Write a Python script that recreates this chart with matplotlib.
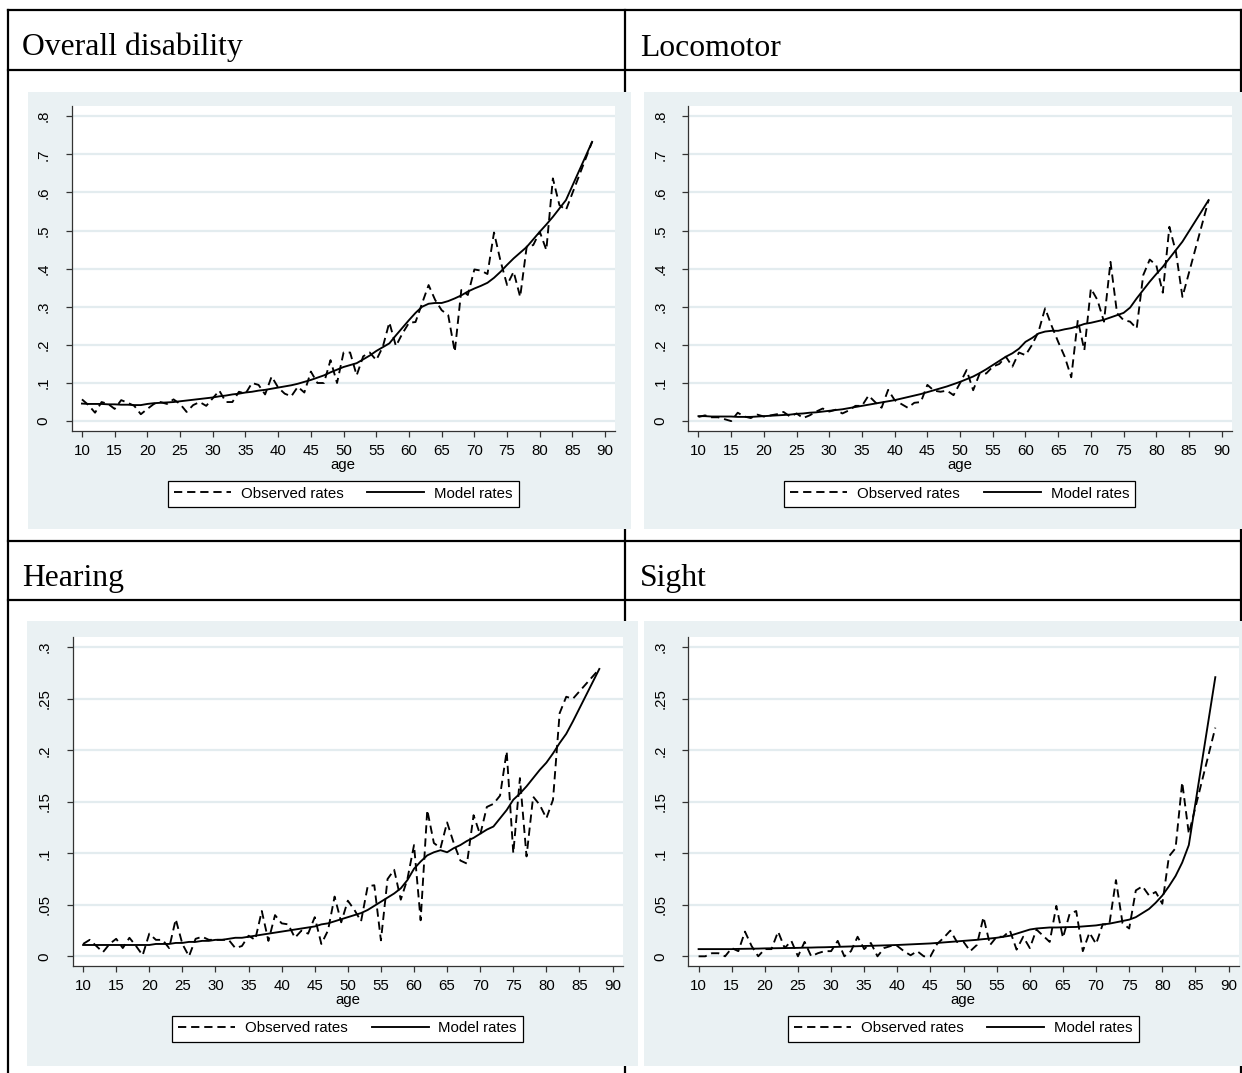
import matplotlib
matplotlib.use("Agg")
import matplotlib.pyplot as plt
from matplotlib.lines import Line2D
from matplotlib.patches import Rectangle

# ---------------------------------------------------------------- data
ages = list(range(10, 85)) + [88]

overall_obs = [
    .057, .042, .022, .050, .045, .032, .055, .048, .040, .018,
    .032, .045, .050, .045, .057, .045, .024, .042, .050, .040,
    .060, .080, .050, .050, .077, .072, .100, .095, .070, .117,
    .088, .072, .065, .090, .075, .130, .100, .100, .160, .100,
    .180, .180, .120, .170, .180, .160, .195, .259, .197, .230,
    .258, .260, .309, .357, .318, .291, .278, .182, .344, .331,
    .398, .395, .386, .495, .420, .357, .392, .326, .458, .462,
    .497, .449, .637, .567, .554,
    .733]
overall_model = [
    .046, .045, .045, .045, .044, .044, .043, .043, .042, .042,
    .045, .047, .048, .049, .050, .052, .054, .056, .058, .060,
    .062, .065, .067, .070, .072, .075, .077, .080, .082, .085,
    .088, .091, .094, .098, .103, .108, .114, .120, .128, .135,
    .142, .147, .152, .162, .172, .184, .194, .204, .225, .245,
    .265, .284, .300, .308, .310, .310, .315, .322, .330, .340,
    .348, .355, .363, .376, .392, .410, .427, .442, .457, .477,
    .497, .516, .536, .558, .580,
    .733]

loco_obs = [
    .011, .015, .010, .010, .005, .000, .022, .012, .008, .017,
    .012, .015, .018, .024, .012, .020, .008, .015, .025, .033,
    .025, .030, .020, .028, .040, .040, .067, .050, .035, .082,
    .055, .045, .035, .048, .050, .095, .080, .077, .080, .068,
    .100, .134, .081, .125, .125, .143, .150, .169, .143, .180,
    .173, .200, .235, .296, .250, .208, .169, .115, .265, .186,
    .348, .318, .261, .418, .283, .265, .261, .243, .383, .424,
    .409, .337, .510, .444, .326,
    .580]
loco_model = [
    .013, .013, .012, .012, .012, .012, .011, .011, .011, .012,
    .013, .014, .015, .016, .017, .019, .020, .022, .023, .025,
    .027, .029, .031, .034, .037, .040, .043, .046, .049, .052,
    .055, .059, .063, .067, .071, .076, .081, .086, .091, .097,
    .103, .110, .117, .126, .136, .147, .158, .169, .178, .190,
    .208, .218, .230, .235, .237, .237, .241, .244, .249, .255,
    .258, .262, .266, .272, .278, .284, .298, .322, .344, .366,
    .386, .405, .427, .449, .471,
    .580]

hearing_obs = [
    .012, .016, .010, .004, .012, .017, .008, .018, .010, .001,
    .022, .016, .016, .008, .036, .012, .000, .017, .019, .016,
    .016, .016, .016, .008, .010, .020, .016, .044, .015, .040,
    .032, .031, .018, .025, .022, .038, .012, .025, .058, .033,
    .054, .045, .034, .068, .069, .0155, .075, .084, .055, .075,
    .108, .035, .142, .110, .105, .130, .110, .093, .090, .137,
    .118, .145, .148, .156, .199, .100, .173, .097, .155, .147,
    .134, .152, .236, .252, .250,
    .279]
hearing_model = [
    .011, .011, .011, .011, .011, .011, .011, .011, .011, .011,
    .011, .012, .012, .012, .013, .013, .014, .014, .015, .015,
    .016, .016, .017, .018, .018, .019, .020, .021, .022, .023,
    .024, .025, .026, .027, .028, .029, .031, .032, .034, .036,
    .038, .040, .042, .045, .049, .053, .057, .061, .066, .074,
    .085, .092, .098, .101, .103, .101, .105, .108, .112, .115,
    .119, .123, .126, .134, .142, .152, .158, .165, .173, .181,
    .188, .197, .207, .216, .228,
    .279]

sight_obs = [
    .000, .000, .003, .003, .000, .008, .005, .024, .010, .000,
    .007, .007, .024, .008, .015, .000, .014, .000, .003, .005,
    .005, .015, .000, .005, .019, .007, .013, .000, .008, .010,
    .010, .005, .001, .005, .000, .000, .012, .018, .025, .014,
    .014, .005, .011, .038, .011, .019, .019, .025, .0065, .019,
    .008, .026, .020, .014, .049, .018, .041, .044, .005, .023,
    .012, .031, .031, .074, .032, .027, .064, .068, .059, .0625,
    .051, .097, .105, .169, .119,
    .222]
sight_model = [
    .007, .007, .007, .007, .007, .007, .0072, .0073, .0074, .0075,
    .0077, .0078, .0079, .008, .0081, .0082, .0084, .0085, .0087, .0088,
    .009, .0092, .0094, .0096, .0098, .010, .0102, .0104, .0106, .0108,
    .011, .0113, .0116, .0119, .0122, .0125, .013, .0135, .014, .0145,
    .015, .0155, .016, .0167, .0173, .018, .019, .020, .022, .024,
    .026, .027, .0275, .028, .028, .0282, .0284, .0285, .029, .0295,
    .030, .031, .0317, .033, .0343, .0356, .038, .042, .046, .052,
    .059, .068, .078, .091, .108,
    .271]

titles = ["Overall disability", "Locomotor", "Hearing", "Sight"]
x_ticks = list(range(10, 95, 5))
y_ticks_top = [0, .1, .2, .3, .4, .5, .6, .7, .8]
y_labels_top = ["0", ".1", ".2", ".3", ".4", ".5", ".6", ".7", ".8"]
y_ticks_bottom = [0, .05, .1, .15, .2, .25, .3]
y_labels_bottom = ["0", ".05", ".1", ".15", ".2", ".25", ".3"]
legend_labels = ["Observed rates", "Model rates"]

# ---------------------------------------------------------------- layout
W, H, DPI = 1242, 1073, 100
fig = plt.figure(figsize=(W / DPI, H / DPI), dpi=DPI)
fig.patch.set_facecolor("white")

def fx(x):
    return x / W

def fy(y):
    return 1 - y / H

BG = "#EAF1F3"
GRID = "#E3ECEF"
SANS = "Liberation Sans"
SERIF = "Liberation Serif"
FS = 10.8

# table rules
def rule(x0, y0, x1, y1):
    fig.add_artist(Line2D([fx(x0), fx(x1)], [fy(y0), fy(y1)],
                          transform=fig.transFigure, color="black",
                          lw=1.6, zorder=-3, solid_capstyle="projecting"))

rule(8, 10, 1241, 10)
rule(8, 70, 1241, 70)
rule(8, 541, 1241, 541)
rule(8, 600, 1241, 600)
rule(8, 10, 8, 1073)
rule(625, 10, 625, 1073)
rule(1241, 10, 1241, 1073)

header_pos = [(22, 55.5), (640, 55.5), (22, 586), (640, 586)]
for t, (hx, hy) in zip(titles, header_pos):
    fig.text(fx(hx), fy(hy), t, fontfamily=SERIF, fontsize=22.8,
             ha="left", va="baseline")

# panel backgrounds (x0, y0, x1, y1 in pixels)
bg_boxes = [(28, 92, 631, 529), (644, 92, 1242, 529),
            (27, 621, 638, 1066), (644, 621, 1242, 1066)]
for x0, y0, x1, y1 in bg_boxes:
    fig.add_artist(Rectangle((fx(x0), fy(y1)), fx(x1 - x0), (y1 - y0) / H,
                             transform=fig.transFigure, facecolor=BG,
                             edgecolor="none", zorder=-2))

# plot regions (x0, y0, x1, y1 in pixels)
plot_boxes = [(71.5, 106, 615, 431), (688, 106, 1231.5, 431),
              (72.5, 637, 622.5, 966), (688, 637, 1238.5, 966)]
xlim = (8.4, 91.5)
ylims = [(-0.026, 0.827), (-0.026, 0.827), (-0.0094, 0.31), (-0.0094, 0.31)]

series = [(overall_obs, overall_model), (loco_obs, loco_model),
          (hearing_obs, hearing_model), (sight_obs, sight_model)]

for i, ((obs, model), (x0, y0, x1, y1)) in enumerate(zip(series, plot_boxes)):
    ax = fig.add_axes([fx(x0), fy(y1), fx(x1 - x0), (y1 - y0) / H])
    ax.set_facecolor("white")
    if i < 2:
        yt, yl = y_ticks_top, y_labels_top
    else:
        yt, yl = y_ticks_bottom, y_labels_bottom
    ax.set_xlim(*xlim)
    ax.set_ylim(*ylims[i])
    ax.set_yticks(yt)
    ax.set_yticklabels(yl, rotation=90, va="center", fontfamily=SANS,
                       fontsize=FS)
    ax.set_xticks(x_ticks)
    ax.set_xticklabels([str(v) for v in x_ticks], fontfamily=SANS,
                       fontsize=FS)
    ax.yaxis.grid(True, color=GRID, lw=1.6)
    ax.set_axisbelow(True)
    for s in ("top", "right"):
        ax.spines[s].set_visible(False)
    for s in ("left", "bottom"):
        ax.spines[s].set_color("#333333")
        ax.spines[s].set_linewidth(0.9)
    ax.tick_params(axis="both", direction="out", length=4, width=0.9,
                   color="#333333")
    ax.tick_params(axis="y", pad=11)
    ax.tick_params(axis="x", pad=5.5)
    ax.set_xlabel("age", fontfamily=SANS, fontsize=FS, labelpad=0)

    l_obs, = ax.plot(ages, obs, color="black", lw=1.35,
                     linestyle=(0, (4.4, 2.6)))
    l_mod, = ax.plot(ages, model, color="black", lw=1.35)

    cx = (x0 + x1) / 2
    leg = ax.legend([l_obs, l_mod], legend_labels, ncol=2,
                    loc="upper center",
                    bbox_to_anchor=(fx(cx), fy(y1 + 49.5)),
                    bbox_transform=fig.transFigure, borderaxespad=0,
                    prop={"family": SANS, "size": FS},
                    handlelength=3.8, handletextpad=0.65,
                    columnspacing=1.6, borderpad=0.4,
                    fancybox=False, framealpha=1, edgecolor="black")
    leg.get_frame().set_linewidth(0.9)

fig.savefig("out.png", dpi=DPI, facecolor="white")
